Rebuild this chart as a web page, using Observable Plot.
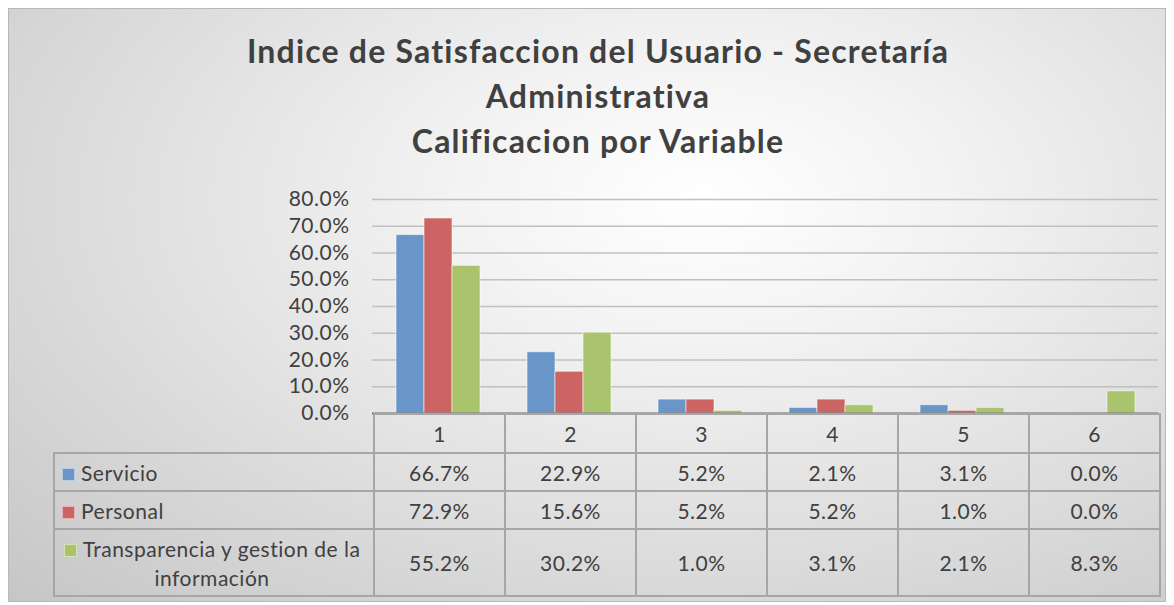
<!DOCTYPE html>
<html>
<head>
<meta charset="utf-8">
<script src="https://cdn.jsdelivr.net/npm/d3@7"></script>
<script src="https://cdn.jsdelivr.net/npm/@observablehq/plot@0.6"></script>
<style>
  html, body { margin: 0; padding: 0; background: #fff; }
  #wrap { position: relative; width: 1174px; height: 605px; overflow: hidden; font-family: Lato, sans-serif; color: #404040; }
  #frame { position: absolute; left: 8px; top: 8px; width: 1158px; height: 594px; box-sizing: border-box;
    border: 1px solid #b8b8b8;
    background: radial-gradient(ellipse farthest-corner at 60% 32%, #ffffff 0%, #f3f3f3 25%, #c6c6c6 100%); }
  #title { position: absolute; left: 0; width: 1196px; top: 28px; text-align: center; font-weight: bold; font-size: 32px; letter-spacing: 1.2px; line-height: 45px; color: #404040; }
  #chart { position: absolute; left: 0; top: 180px; }
  #table { position: absolute; left: 53px; top: 413px; border-collapse: collapse; table-layout: fixed; font-size: 21px; letter-spacing: 0.5px; color: #404040; }
  #table td { border: 2px solid #a6a6a6; padding: 0; text-align: center; vertical-align: middle; box-sizing: border-box; }
  #table td.blank { border: none; border-right: 2px solid #a6a6a6; }
  #table td.lab { text-align: left; padding-left: 7px; padding-right: 11px; }
  .labin { display: inline-block; text-align: center; line-height: 29px; }
  .key { display: inline-block; width: 13px; height: 13px; margin-right: 6px; vertical-align: 0px; box-sizing: border-box; border: 1px solid rgba(255,255,255,0.5); }
</style>
</head>
<body>
<div id="wrap">
  <div id="frame"></div>
  <div id="title"></div>
  <div id="chart"></div>
  <table id="table"></table>
</div>
<script>
const titleLines = ["Indice de Satisfaccion del Usuario - Secretaría", "Administrativa", "Calificacion por Variable"];
const categories = ["1", "2", "3", "4", "5", "6"];
const series = ["Servicio", "Personal", "Transparencia y gestion de la información"];
const servicio = [0.667, 0.229, 0.052, 0.021, 0.031, 0.000];
const personal = [0.729, 0.156, 0.052, 0.052, 0.010, 0.000];
const transparencia = [0.552, 0.302, 0.010, 0.031, 0.021, 0.083];
const colors = ["#6a95c9", "#cd6464", "#a9c46d"];
const yTicks = [0, 0.1, 0.2, 0.3, 0.4, 0.5, 0.6, 0.7, 0.8];

const valuesBySeries = [servicio, personal, transparencia];
const data = [];
series.forEach((s, i) => categories.forEach((c, j) => data.push({cat: c, series: s, value: valuesBySeries[i][j]})));

document.getElementById("title").innerHTML = titleLines.join("<br>");

const fmt = d3.format(".1%");

const plot = Plot.plot({
  width: 1174,
  height: 250,
  marginLeft: 372,
  marginRight: 16,
  marginTop: 19,
  marginBottom: 17,
  style: {background: "transparent", fontFamily: "Lato, sans-serif", fontSize: "21px", letterSpacing: "0.5px", color: "#404040", overflow: "visible"},
  fx: {domain: categories, padding: 0, axis: null},
  x: {domain: series, paddingInner: 0, paddingOuter: 0.76, axis: null},
  y: {domain: [0, 0.8], ticks: yTicks, tickFormat: fmt, tickSize: 0, tickPadding: 23, label: null},
  color: {domain: series, range: colors},
  marks: [
    Plot.ruleY(yTicks.filter(d => d > 0), {stroke: "#c0c0c0", strokeWidth: 1.5}),
    Plot.barY(data, {fx: "cat", x: "series", y: "value", fill: "series", stroke: "#ffffff", strokeOpacity: 0.55, strokeWidth: 1}),
    Plot.ruleY([0], {stroke: "#6a6a6a", strokeWidth: 2})
  ]
});
document.getElementById("chart").appendChild(plot);

// data table
const table = document.getElementById("table");
const colgroup = document.createElement("colgroup");
colgroup.innerHTML = `<col style="width:320px">` + categories.map(() => `<col style="width:131px">`).join("");
table.appendChild(colgroup);
const head = document.createElement("tr");
head.style.height = "39px";
head.innerHTML = `<td class="blank"></td>` + categories.map(c => `<td>${c}</td>`).join("");
table.appendChild(head);
const rowHeights = [38, 38, 67];
series.forEach((s, i) => {
  const tr = document.createElement("tr");
  tr.style.height = rowHeights[i] + "px";
  tr.innerHTML = `<td class="lab"><span class="labin"><span class="key" style="background:${colors[i]}"></span>${s}</span></td>` +
    valuesBySeries[i].map(v => `<td>${fmt(v)}</td>`).join("");
  table.appendChild(tr);
});
</script>
</body>
</html>
